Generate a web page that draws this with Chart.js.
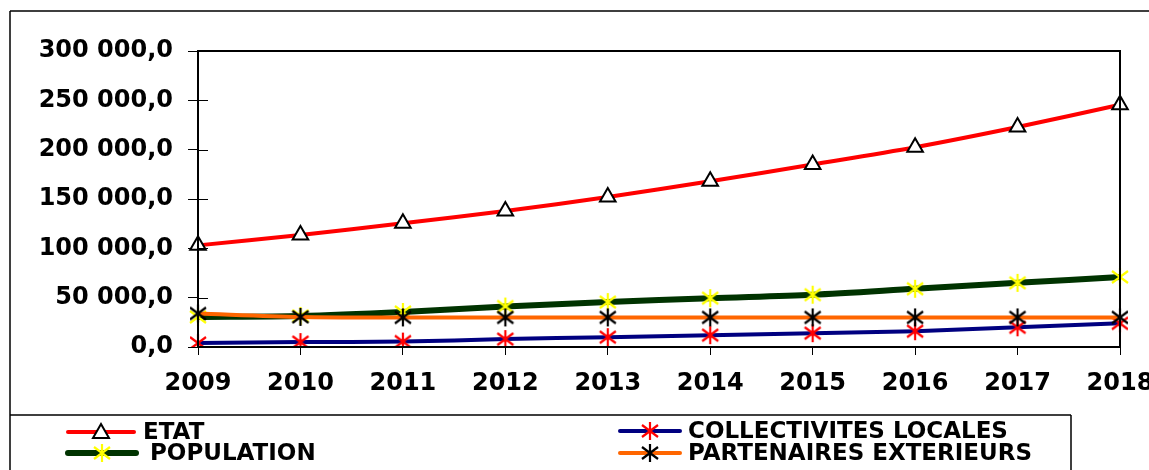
<!DOCTYPE html>
<html>
<head>
  <title>Financement 2009-2018</title>
  <script src="https://cdn.jsdelivr.net/npm/chart.js"></script>
  <style>
    body {
      margin: 0;
      background: #ffffff;
    }
    .chart-box {
      position: relative;
      width: 1149px;
      height: 470px;
    }
  </style>
</head>
<body>
  <div class="chart-box">
    <canvas id="finChart"></canvas>
  </div>

  <script>
    // values
    const years = ['2009', '2010', '2011', '2012', '2013', '2014', '2015', '2016', '2017', '2018'];
    const etat = [103000, 113500, 125500, 137800, 152000, 168000, 185000, 202500, 223000, 245500];
    const collectivites = [4000, 5000, 5500, 8000, 10000, 12000, 14000, 16000, 20000, 24000];
    const population = [30500, 31500, 35500, 41000, 45500, 49500, 53000, 59000, 65000, 71000];
    const partenaires = [34000, 30500, 30000, 30000, 30000, 30000, 30000, 30000, 30000, 30000];
    const yTicks = [0, 50000, 100000, 150000, 200000, 250000, 300000];

    const FONT = "'DejaVu Sans', sans-serif";

    // asterisk marker like the old spreadsheet one
    function makeStar(color) {
      const c = document.createElement('canvas');
      c.width = 20;
      c.height = 20;
      const g = c.getContext('2d');
      g.strokeStyle = color;
      g.lineWidth = 2.2;
      g.beginPath();
      g.moveTo(10, 1); g.lineTo(10, 19);
      g.moveTo(2, 4); g.lineTo(18, 16);
      g.moveTo(2, 16); g.lineTo(18, 4);
      g.stroke();
      return c;
    }

    const starYellow = makeStar('#ffff00');
    const starRed = makeStar('#ff0000');
    const starBlack = makeStar('#000000');

    function fmtNumber(v) {
      return String(v).replace(/\B(?=(\d{3})+(?!\d))/g, ' ') + ',0';
    }

    const legendItems = [
      { label: 'ETAT', color: '#ff0000', width: 4, marker: 'tri', x1: 68, x2: 134, y: 432, tx: 143 },
      { label: 'POPULATION', color: '#003300', width: 6, marker: starYellow, x1: 68, x2: 136, y: 453, tx: 150 },
      { label: 'COLLECTIVITES LOCALES', color: '#000080', width: 4, marker: starRed, x1: 620, x2: 680, y: 431, tx: 688 },
      { label: 'PARTENAIRES EXTERIEURS', color: '#ff6600', width: 4, marker: starBlack, x1: 620, x2: 680, y: 453, tx: 688 }
    ];

    const framePlugin = {
      id: 'frame',
      afterDraw(chart) {
        const ctx = chart.ctx;
        const a = chart.chartArea;
        const yScale = chart.scales.y;
        ctx.save();

        // outer frame and legend box
        ctx.strokeStyle = '#000000';
        ctx.lineWidth = 1.5;
        ctx.beginPath();
        ctx.moveTo(10, 11); ctx.lineTo(1149, 11);
        ctx.moveTo(10, 11); ctx.lineTo(10, 470);
        ctx.moveTo(10, 415); ctx.lineTo(1071, 415);
        ctx.moveTo(1071, 415); ctx.lineTo(1071, 470);
        ctx.stroke();

        // plot area box
        ctx.lineWidth = 2;
        ctx.strokeRect(a.left, a.top, a.right - a.left, a.bottom - a.top);

        // y ticks cross the axis
        ctx.lineWidth = 1;
        ctx.beginPath();
        yTicks.forEach(t => {
          const py = Math.round(yScale.getPixelForValue(t)) + 0.5;
          ctx.moveTo(a.left, py);
          ctx.lineTo(a.left + 10, py);
        });
        ctx.stroke();

        // legend
        ctx.font = 'bold 23px ' + FONT;
        ctx.textBaseline = 'middle';
        ctx.fillStyle = '#000000';
        legendItems.forEach(it => {
          ctx.strokeStyle = it.color;
          ctx.lineWidth = it.width;
          ctx.lineCap = 'round';
          ctx.beginPath();
          ctx.moveTo(it.x1, it.y);
          ctx.lineTo(it.x2, it.y);
          ctx.stroke();
          const mx = (it.x1 + it.x2) / 2;
          if (it.marker === 'tri') {
            ctx.strokeStyle = '#000000';
            ctx.lineWidth = 2;
            ctx.lineCap = 'butt';
            ctx.beginPath();
            ctx.moveTo(mx, it.y - 8);
            ctx.lineTo(mx + 8, it.y + 6);
            ctx.lineTo(mx - 8, it.y + 6);
            ctx.closePath();
            ctx.fillStyle = '#ffffff';
            ctx.fill();
            ctx.stroke();
            ctx.fillStyle = '#000000';
          } else {
            ctx.drawImage(it.marker, mx - 10, it.y - 10);
          }
          ctx.fillText(it.label, it.tx, it.y + 1);
        });
        ctx.restore();
      }
    };

    const ctx = document.getElementById('finChart').getContext('2d');

    new Chart(ctx, {
      type: 'line',
      data: {
        labels: years,
        datasets: [
          {
            label: 'ETAT',
            data: etat,
            borderColor: '#ff0000',
            borderWidth: 4,
            pointStyle: 'triangle',
            pointRadius: 9,
            pointBorderColor: '#000000',
            pointBackgroundColor: '#ffffff',
            pointBorderWidth: 2,
            order: 0
          },
          {
            label: 'COLLECTIVITES LOCALES',
            data: collectivites,
            borderColor: '#000080',
            borderWidth: 4,
            pointStyle: starRed,
            order: 2
          },
          {
            label: 'POPULATION',
            data: population,
            borderColor: '#003300',
            borderWidth: 6,
            pointStyle: starYellow,
            order: 3
          },
          {
            label: 'PARTENAIRES EXTERIEURS',
            data: partenaires,
            borderColor: '#ff6600',
            borderWidth: 4,
            pointStyle: starBlack,
            order: 1
          }
        ]
      },
      options: {
        responsive: true,
        maintainAspectRatio: false,
        animation: false,
        tension: 0.3,
        layout: {
          padding: { left: 0, top: 51, right: 29, bottom: 0 }
        },
        plugins: {
          legend: { display: false },
          tooltip: { enabled: false }
        },
        scales: {
          x: {
            offset: false,
            grid: {
              drawOnChartArea: false,
              color: '#000000',
              tickLength: 8
            },
            border: { display: true, color: '#000000', width: 2 },
            ticks: {
              color: '#000000',
              padding: 14,
              maxRotation: 0,
              autoSkip: false,
              font: { family: FONT, size: 24, weight: 'bold' }
            },
            afterFit(scale) {
              scale.height = 123;
              scale.paddingLeft = 0;
              scale.paddingRight = 0;
            }
          },
          y: {
            min: 0,
            max: 300000,
            afterBuildTicks(scale) {
              scale.ticks = yTicks.map(v => ({ value: v }));
            },
            grid: {
              drawOnChartArea: false,
              color: '#000000',
              tickLength: 10
            },
            border: { display: true, color: '#000000', width: 2 },
            ticks: {
              color: '#000000',
              padding: 15,
              font: { family: FONT, size: 24, weight: 'bold' },
              callback: v => fmtNumber(v)
            },
            afterFit(scale) {
              scale.width = 198;
            }
          }
        }
      },
      plugins: [framePlugin]
    });
  </script>
</body>
</html>
